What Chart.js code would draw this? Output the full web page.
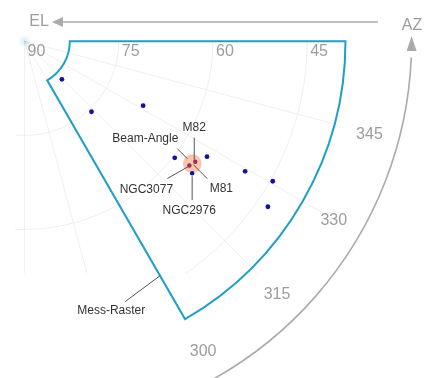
<!DOCTYPE html>
<html>
<head>
<meta charset="utf-8">
<style>
  html, body { margin: 0; padding: 0; background: #fff; overflow: hidden; }
  #wrap { width: 424px; height: 378px; }
</style>
<script src="https://cdn.jsdelivr.net/npm/chart.js@4.4.1/dist/chart.umd.min.js"></script>
</head>
<body>
<div id="wrap"><canvas id="sky" width="424" height="378"></canvas></div>
<script>
// Tick labels (degrees)
const elevationTicks = [90, 75, 60, 45];
const azimuthTicks = [345, 330, 315, 300];

// Faint sky grid: elevation rings and azimuth spokes
const elevationGrid = [75, 60, 45];
const azimuthGrid = [270, 285, 300, 315, 330, 345];

// Scan field limits
const rasterElRange = [38.9, 82.8];
const rasterAzRange = [300, 360];

// Raster pointing positions
const pointingEl = [81.5, 74.5, 68.5, 59.7, 55.6, 49.2, 44.6, 43.1];
const pointingAz = [314.3, 313.4, 331.4, 322.1, 327.6, 329.4, 330.5, 325.7];

// Galaxies of the M81 group
const sourceNames = ['M82', 'NGC3077', 'NGC2976'];
const sourceEl = [56.7, 57.1, 56.0];
const sourceAz = [324.7, 322.9, 321.7];

// Beam centred on M81
const beamEl = 56.9;
const beamAz = 323.8;
const beamRadiusDeg = 1.5;

// Mess-Raster label points at this spot on the field edge
const rasterLabelEl = 46.8;
const rasterLabelAz = 300;

// ---- drawing setup ----
const PX_PER_DEG = 6.4;
const POLE_PX = { x: 21, y: 38 };
const W = 424, H = 378;

const FONT = '"Liberation Sans", Arial, Helvetica, sans-serif';
const AXIS_GREY = '#9d9d9d';
const ARROW_GREY = '#ababab';
const GRID_GREY = 'rgba(0,0,0,0.065)';
const FIELD_BLUE = '#1f9fc4';
const DOT_BLUE = '#12129e';
const SRC_RED = '#a8284c';

// zenith distance / azimuth -> plane coordinates (AZ 360 points right, decreasing clockwise)
function toPlane(el, az) {
  const r = 90 - el;
  const t = (360 - az) * Math.PI / 180;
  return { x: r * Math.cos(t), y: -r * Math.sin(t) };
}

const pointingData = pointingEl.map((e, i) => toPlane(e, pointingAz[i]));
const sourceData = sourceEl.map((e, i) => toPlane(e, sourceAz[i]));
const sourceColors = sourceNames.map(n => n === 'NGC2976' ? DOT_BLUE : SRC_RED);

function geom(chart) {
  const xs = chart.scales.x, ys = chart.scales.y;
  const cx = xs.getPixelForValue(0), cy = ys.getPixelForValue(0);
  const k = xs.getPixelForValue(1) - cx;
  const px = (el, az) => {
    const p = toPlane(el, az);
    return { x: xs.getPixelForValue(p.x), y: ys.getPixelForValue(p.y) };
  };
  return { cx, cy, k, px };
}
const rad = d => d * Math.PI / 180;

// Grid, scan field outline and beam footprint
const skyUnderlay = {
  id: 'skyUnderlay',
  beforeDatasetsDraw(chart) {
    const ctx = chart.ctx;
    const g = geom(chart);

    // soft glare at the zenith
    ctx.save();
    const grd = ctx.createRadialGradient(g.cx, g.cy, 0, g.cx, g.cy, 7);
    grd.addColorStop(0, 'rgba(185,225,238,0.6)');
    grd.addColorStop(1, 'rgba(185,225,238,0)');
    ctx.fillStyle = grd;
    ctx.beginPath(); ctx.arc(g.cx, g.cy, 7, 0, Math.PI * 2); ctx.fill();
    ctx.restore();

    // grid, limited to the plotting window
    ctx.save();
    ctx.beginPath();
    ctx.rect(15, 0, 320, 273);
    ctx.clip();
    ctx.strokeStyle = GRID_GREY;
    ctx.lineWidth = 1;
    elevationGrid.forEach(e => {
      ctx.beginPath();
      ctx.arc(g.cx, g.cy, (90 - e) * g.k, rad(0), rad(95));
      ctx.stroke();
    });
    azimuthGrid.forEach(a => {
      const p = g.px(0, a);
      ctx.beginPath();
      ctx.moveTo(g.cx, g.cy);
      ctx.lineTo(p.x, p.y);
      ctx.stroke();
    });
    ctx.restore();

    // scan field outline
    const rIn = (90 - rasterElRange[1]) * g.k;
    const rOut = (90 - rasterElRange[0]) * g.k;
    const t0 = rad(360 - rasterAzRange[1]);
    const t1 = rad(360 - rasterAzRange[0]);
    ctx.save();
    ctx.strokeStyle = FIELD_BLUE;
    ctx.lineWidth = 2;
    ctx.lineJoin = 'miter';
    ctx.beginPath();
    ctx.moveTo(g.cx + rIn * Math.cos(t0), g.cy + rIn * Math.sin(t0));
    ctx.lineTo(g.cx + rOut * Math.cos(t0), g.cy + rOut * Math.sin(t0));
    ctx.arc(g.cx, g.cy, rOut, t0, t1, false);
    ctx.lineTo(g.cx + rIn * Math.cos(t1), g.cy + rIn * Math.sin(t1));
    ctx.arc(g.cx, g.cy, rIn, t1, t0, true);
    ctx.closePath();
    ctx.stroke();
    ctx.restore();

    // beam footprint
    const b = g.px(beamEl, beamAz);
    ctx.save();
    ctx.fillStyle = 'rgba(242,150,115,0.55)';
    ctx.beginPath();
    ctx.arc(b.x, b.y, beamRadiusDeg * g.k, 0, Math.PI * 2);
    ctx.fill();
    ctx.restore();
  }
};

// Axis labels, arrows and annotations
const skyOverlay = {
  id: 'skyOverlay',
  afterDatasetsDraw(chart) {
    const ctx = chart.ctx;
    const g = geom(chart);
    ctx.save();

    // elevation tick labels along the top edge
    ctx.font = '16px ' + FONT;
    ctx.fillStyle = AXIS_GREY;
    ctx.textBaseline = 'middle';
    ctx.textAlign = 'left';
    elevationTicks.forEach(e => {
      ctx.fillText(String(e), g.cx + (90 - e) * g.k + 3, g.cy + 10);
    });

    // azimuth tick labels outside the field
    ctx.textAlign = 'center';
    const rLab = 357;
    azimuthTicks.forEach(a => {
      const t = rad(360 - a);
      ctx.fillText(String(a), g.cx + rLab * Math.cos(t), g.cy + rLab * Math.sin(t) + 1);
    });

    // EL arrow
    ctx.strokeStyle = ARROW_GREY;
    ctx.fillStyle = ARROW_GREY;
    ctx.lineWidth = 1.6;
    ctx.beginPath();
    ctx.moveTo(378, 22);
    ctx.lineTo(60, 22);
    ctx.stroke();
    ctx.beginPath();
    ctx.moveTo(52, 22);
    ctx.lineTo(63, 17);
    ctx.lineTo(63, 27);
    ctx.closePath();
    ctx.fill();

    // AZ arrow
    const rAz = 387;
    ctx.beginPath();
    ctx.arc(g.cx, g.cy, rAz, rad(2.4), rad(80));
    ctx.stroke();
    const tipX = g.cx + rAz;
    ctx.beginPath();
    ctx.moveTo(tipX, 36);
    ctx.lineTo(tipX - 5, 51);
    ctx.lineTo(tipX + 5, 51);
    ctx.closePath();
    ctx.fill();

    ctx.fillStyle = AXIS_GREY;
    ctx.textAlign = 'center';
    ctx.fillText('EL', 39, 22);
    ctx.fillText('AZ', 412, 26);

    // annotations with leader lines
    const beam = g.px(beamEl, beamAz);
    const src = {};
    sourceNames.forEach((n, i) => { src[n] = g.px(sourceEl[i], sourceAz[i]); });
    const edge = g.px(rasterLabelEl, rasterLabelAz);
    const notes = [
      { text: 'M82', at: src['M82'], from: [-1, -24], to: [-1, -2], label: [-1, -34] },
      { text: 'Beam-Angle', at: beam, from: [-15, -15], to: [-5, -5], label: [-47, -25] },
      { text: 'NGC3077', at: src['NGC3077'], from: [-22, 13], to: [-1, 1], label: [-43, 24] },
      { text: 'M81', at: beam, from: [1, 1], to: [15, 15], label: [29, 25] },
      { text: 'NGC2976', at: src['NGC2976'], from: [0, 27], to: [0, 3], label: [-3, 37] },
      { text: 'Mess-Raster', at: edge, from: [-35, 26], to: [0, 0], label: [-49, 35] }
    ];
    ctx.strokeStyle = '#555';
    ctx.lineWidth = 1;
    ctx.font = '12px ' + FONT;
    ctx.fillStyle = '#333';
    ctx.textAlign = 'center';
    ctx.textBaseline = 'middle';
    notes.forEach(n => {
      ctx.beginPath();
      ctx.moveTo(n.at.x + n.from[0], n.at.y + n.from[1]);
      ctx.lineTo(n.at.x + n.to[0], n.at.y + n.to[1]);
      ctx.stroke();
      ctx.fillText(n.text, n.at.x + n.label[0], n.at.y + n.label[1]);
    });

    ctx.restore();
  }
};

const xMin = -POLE_PX.x / PX_PER_DEG;
const yMax = POLE_PX.y / PX_PER_DEG;

new Chart(document.getElementById('sky'), {
  type: 'scatter',
  data: {
    datasets: [
      {
        label: 'Raster',
        data: pointingData,
        pointRadius: 2.4,
        pointBackgroundColor: DOT_BLUE,
        pointBorderWidth: 0,
        showLine: false
      },
      {
        label: 'Sources',
        data: sourceData,
        pointRadius: 2.2,
        pointBackgroundColor: sourceColors,
        pointBorderWidth: 0,
        showLine: false
      }
    ]
  },
  options: {
    responsive: false,
    animation: false,
    devicePixelRatio: 1,
    layout: { padding: 0 },
    plugins: { legend: { display: false }, tooltip: { enabled: false } },
    scales: {
      x: { type: 'linear', display: false, min: xMin, max: xMin + W / PX_PER_DEG },
      y: { type: 'linear', display: false, min: yMax - H / PX_PER_DEG, max: yMax }
    }
  },
  plugins: [skyUnderlay, skyOverlay]
});
</script>
</body>
</html>
